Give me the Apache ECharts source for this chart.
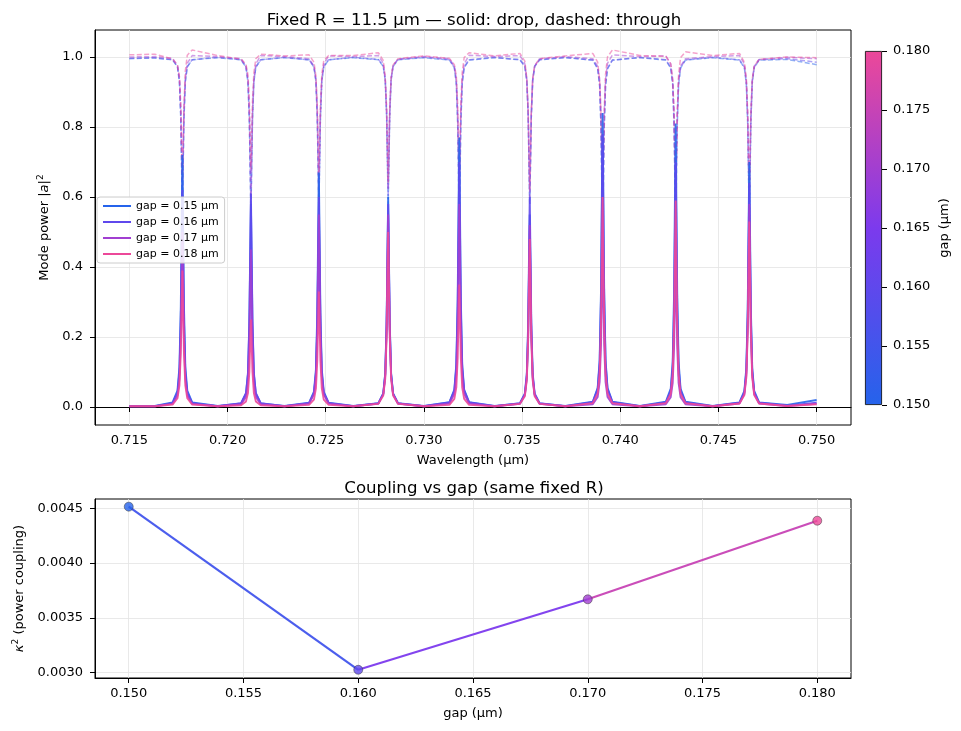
<!DOCTYPE html>
<html><head><meta charset="utf-8">
<script src="https://cdn.jsdelivr.net/npm/echarts@6/dist/echarts.min.js"></script>
<style>html,body{margin:0;padding:0;background:#fff}#c{width:961px;height:731px}</style>
</head><body><div id="c"></div>
<script>
// ---------- data ----------
const gaps = [0.15, 0.16, 0.17, 0.18];
const gapLabels = ['gap = 0.15 µm', 'gap = 0.16 µm', 'gap = 0.17 µm', 'gap = 0.18 µm'];
const kappa2 = [0.004515, 0.003027, 0.00367, 0.004387];

const wavelength = [
  0.7150, 0.7163,
  0.71720,0.71745,0.71755,0.71762,0.71770,0.71778,0.71785,0.71795,0.71820, 0.7195,
  0.72069,0.72094,0.72104,0.72111,0.72119,0.72127,0.72134,0.72144,0.72169, 0.7229,
  0.72415,0.72440,0.72450,0.72457,0.72465,0.72473,0.72480,0.72490,0.72515, 0.7264,
  0.72768,0.72793,0.72803,0.72810,0.72818,0.72826,0.72833,0.72843,0.72868, 0.7300,
  0.73130,0.73155,0.73165,0.73172,0.73180,0.73188,0.73195,0.73205,0.73230, 0.7336,
  0.73489,0.73514,0.73524,0.73531,0.73539,0.73547,0.73554,0.73564,0.73589, 0.7372,
  0.73860,0.73885,0.73895,0.73902,0.73910,0.73918,0.73925,0.73935,0.73960, 0.7410,
  0.74232,0.74257,0.74267,0.74274,0.74282,0.74290,0.74297,0.74307,0.74332, 0.7447,
  0.74607,0.74632,0.74642,0.74649,0.74657,0.74665,0.74672,0.74682,0.74707,
  0.7485, 0.7500
];

const dropG15 = [
  0.003, 0.003,
  0.013,0.047,0.115,0.288,0.72,0.288,0.115,0.047,0.013, 0.003,
  0.010,0.038,0.093,0.232,0.58,0.232,0.093,0.038,0.010, 0.003,
  0.012,0.044,0.107,0.268,0.67,0.268,0.107,0.044,0.012, 0.003,
  0.011,0.039,0.096,0.240,0.60,0.240,0.096,0.039,0.011, 0.003,
  0.014,0.050,0.123,0.308,0.77,0.308,0.123,0.050,0.014, 0.003,
  0.010,0.036,0.088,0.220,0.55,0.220,0.088,0.036,0.010, 0.003,
  0.015,0.055,0.134,0.336,0.84,0.336,0.134,0.055,0.015, 0.003,
  0.015,0.053,0.130,0.324,0.81,0.324,0.130,0.053,0.015, 0.003,
  0.013,0.046,0.112,0.280,0.70,0.280,0.112,0.046,0.013,
  0.006, 0.020
];
const dropG16 = [
  0.002, 0.002,
  0.011,0.040,0.099,0.248,0.62,0.248,0.099,0.040,0.011, 0.002,
  0.011,0.040,0.098,0.244,0.61,0.244,0.098,0.040,0.011, 0.002,
  0.011,0.039,0.096,0.240,0.60,0.240,0.096,0.039,0.011, 0.002,
  0.010,0.038,0.093,0.232,0.58,0.232,0.093,0.038,0.010, 0.002,
  0.013,0.046,0.112,0.280,0.70,0.280,0.112,0.046,0.013, 0.002,
  0.011,0.039,0.096,0.240,0.60,0.240,0.096,0.039,0.011, 0.002,
  0.014,0.051,0.125,0.312,0.78,0.312,0.125,0.051,0.014, 0.002,
  0.013,0.046,0.112,0.280,0.70,0.280,0.112,0.046,0.013, 0.002,
  0.012,0.042,0.102,0.256,0.64,0.256,0.102,0.042,0.012,
  0.004, 0.012
];
const dropG17 = [
  0.002, 0.002,
  0.009,0.033,0.080,0.200,0.50,0.200,0.080,0.033,0.009, 0.002,
  0.008,0.029,0.072,0.180,0.45,0.180,0.072,0.029,0.008, 0.002,
  0.010,0.036,0.088,0.220,0.55,0.220,0.088,0.036,0.010, 0.002,
  0.010,0.036,0.088,0.220,0.55,0.220,0.088,0.036,0.010, 0.002,
  0.010,0.038,0.093,0.232,0.58,0.232,0.093,0.038,0.010, 0.002,
  0.009,0.034,0.083,0.208,0.52,0.208,0.083,0.034,0.009, 0.002,
  0.008,0.029,0.072,0.180,0.45,0.180,0.072,0.029,0.008, 0.002,
  0.008,0.028,0.069,0.172,0.43,0.172,0.069,0.028,0.008, 0.002,
  0.010,0.038,0.093,0.232,0.58,0.232,0.093,0.038,0.010,
  0.003, 0.009
];
const dropG18 = [
  0.002, 0.002,
  0.007,0.025,0.062,0.156,0.39,0.156,0.062,0.025,0.007, 0.002,
  0.005,0.016,0.040,0.100,0.25,0.100,0.040,0.016,0.005, 0.002,
  0.006,0.021,0.053,0.132,0.33,0.132,0.053,0.021,0.006, 0.002,
  0.009,0.033,0.080,0.200,0.50,0.200,0.080,0.033,0.009, 0.002,
  0.006,0.023,0.056,0.140,0.35,0.140,0.056,0.023,0.006, 0.002,
  0.009,0.031,0.077,0.192,0.48,0.192,0.077,0.031,0.009, 0.002,
  0.011,0.039,0.096,0.240,0.60,0.240,0.096,0.039,0.011, 0.002,
  0.011,0.038,0.094,0.236,0.59,0.236,0.094,0.038,0.011, 0.002,
  0.010,0.034,0.085,0.212,0.53,0.212,0.085,0.034,0.010,
  0.003, 0.008
];

const thruG15 = [
  0.995, 0.997,
  0.992,0.971,0.928,0.820,0.55,0.820,0.928,0.971,0.992, 0.998,
  0.992,0.971,0.928,0.820,0.55,0.820,0.928,0.971,0.992, 0.998,
  0.992,0.971,0.930,0.824,0.56,0.824,0.930,0.971,0.992, 0.998,
  0.992,0.973,0.933,0.832,0.58,0.832,0.933,0.973,0.992, 0.998,
  0.991,0.969,0.923,0.808,0.52,0.808,0.923,0.969,0.991, 0.998,
  0.992,0.973,0.933,0.832,0.58,0.832,0.933,0.973,0.992, 0.998,
  0.991,0.966,0.917,0.792,0.48,0.792,0.917,0.966,0.991, 0.998,
  0.991,0.968,0.920,0.800,0.50,0.800,0.920,0.968,0.991, 0.998,
  0.991,0.969,0.923,0.808,0.52,0.808,0.923,0.969,0.991,
  0.993, 0.978
];
const thruG16 = [
  0.996, 0.998,
  0.992,0.973,0.933,0.832,0.58,0.832,0.933,0.973,0.992, 0.999,
  0.992,0.971,0.930,0.824,0.56,0.824,0.930,0.971,0.992, 0.999,
  0.992,0.973,0.933,0.832,0.58,0.832,0.933,0.973,0.992, 0.999,
  0.993,0.974,0.936,0.840,0.60,0.840,0.936,0.974,0.993, 0.999,
  0.992,0.971,0.928,0.820,0.55,0.820,0.928,0.971,0.992, 0.999,
  0.992,0.973,0.933,0.832,0.58,0.832,0.933,0.973,0.992, 0.999,
  0.991,0.968,0.920,0.800,0.50,0.800,0.920,0.968,0.991, 0.999,
  0.992,0.970,0.926,0.816,0.54,0.816,0.926,0.970,0.992, 0.999,
  0.992,0.971,0.928,0.820,0.55,0.820,0.928,0.971,0.992,
  0.995, 0.985
];
const thruG17 = [
  1.000, 1.001,
  0.996,0.975,0.939,0.848,0.62,0.848,0.939,0.982,1.004, 1.001,
  0.995,0.974,0.936,0.840,0.60,0.840,0.936,0.980,1.004, 1.001,
  0.995,0.974,0.936,0.840,0.60,0.840,0.936,0.980,1.003, 1.001,
  1.004,0.982,0.939,0.848,0.62,0.848,0.939,0.975,0.994, 1.001,
  0.995,0.974,0.936,0.840,0.60,0.840,0.936,0.980,1.005, 1.001,
  1.004,0.980,0.936,0.840,0.60,0.840,0.936,0.974,0.995, 1.001,
  0.995,0.974,0.936,0.840,0.60,0.840,0.936,0.982,1.006, 1.001,
  1.003,0.980,0.936,0.840,0.60,0.840,0.936,0.974,0.995, 1.001,
  1.004,0.980,0.933,0.832,0.58,0.832,0.933,0.973,0.993,
  0.999, 0.995
];
const thruG18 = [
  1.006, 1.008,
  0.994,0.977,0.944,0.860,0.65,0.860,0.960,1.005,1.020, 1.004,
  0.994,0.979,0.949,0.872,0.68,0.872,0.955,0.995,1.008, 1.003,
  1.006,0.985,0.946,0.864,0.66,0.864,0.950,0.990,1.004, 1.004,
  1.012,0.990,0.942,0.856,0.64,0.856,0.942,0.977,0.995, 1.003,
  0.996,0.978,0.946,0.864,0.66,0.864,0.955,0.998,1.012, 1.003,
  1.010,0.988,0.939,0.848,0.62,0.848,0.939,0.975,0.995, 1.003,
  1.010,0.985,0.933,0.832,0.58,0.832,0.950,1.000,1.020, 1.004,
  1.002,0.980,0.933,0.832,0.58,0.832,0.950,0.998,1.015, 1.004,
  1.010,0.985,0.936,0.840,0.60,0.840,0.936,0.974,0.993,
  1.000, 0.998
];

const wavelengthTicks = [0.715, 0.720, 0.725, 0.730, 0.735, 0.740, 0.745, 0.750];
const powerTicks = [0.0, 0.2, 0.4, 0.6, 0.8, 1.0];
const gapTicks = [0.150, 0.155, 0.160, 0.165, 0.170, 0.175, 0.180];
const kappaTicks = [0.0030, 0.0035, 0.0040, 0.0045];

// ---------- styling ----------
const gapColors = ['#2563eb', '#5f48ec', '#a13fd1', '#ec4899'];
const segColors = ['#4255ec', '#7c3aed', '#c743b5'];
const FONT = 'DejaVu Sans';
const drops = [dropG15, dropG16, dropG17, dropG18];
const thrus = [thruG15, thruG16, thruG17, thruG18];
const zip = (xs, ys) => xs.map((x, i) => [x, ys[i]]);

const series = [];
for (let g = 0; g < gaps.length; g++) {
  series.push({
    name: gapLabels[g], type: 'line', xAxisIndex: 0, yAxisIndex: 0,
    data: zip(wavelength, drops[g]), symbol: 'none', showSymbol: false,
    lineStyle: { color: gapColors[g], width: 1.9, opacity: 0.9 },
    itemStyle: { color: gapColors[g] }, z: 3
  });
  series.push({
    name: 'through ' + gaps[g], type: 'line', xAxisIndex: 0, yAxisIndex: 0,
    data: zip(wavelength, thrus[g]), symbol: 'none', showSymbol: false,
    lineStyle: { color: gapColors[g], width: 1.5, opacity: 0.5, type: [5, 2.4] },
    itemStyle: { color: gapColors[g] }, z: 2
  });
}
for (let i = 0; i < gaps.length - 1; i++) {
  series.push({
    name: 'seg' + i, type: 'line', xAxisIndex: 1, yAxisIndex: 1,
    data: [[gaps[i], kappa2[i]], [gaps[i + 1], kappa2[i + 1]]],
    symbol: 'none', lineStyle: { color: segColors[i], width: 2.2, opacity: 0.95 }, z: 3
  });
}
series.push({
  name: 'kappa pts', type: 'scatter', xAxisIndex: 1, yAxisIndex: 1,
  data: gaps.map((g, i) => ({ value: [g, kappa2[i]], itemStyle: { color: gapColors[i] } })),
  symbolSize: 9, itemStyle: { borderColor: '#333', borderWidth: 0.6 }, z: 5
});
// colorbar
series.push({
  name: 'cbBase', type: 'bar', xAxisIndex: 2, yAxisIndex: 2, stack: 'cb',
  data: [gaps[0]], barWidth: '100%', itemStyle: { opacity: 0 }, silent: true
});
series.push({
  name: 'cbBar', type: 'bar', xAxisIndex: 2, yAxisIndex: 2, stack: 'cb',
  data: [gaps[gaps.length - 1] - gaps[0]], barWidth: '100%', silent: true,
  itemStyle: {
    borderColor: '#000', borderWidth: 0.8,
    color: new echarts.graphic.LinearGradient(0, 1, 0, 0, [
      { offset: 0, color: '#2563eb' }, { offset: 0.5, color: '#7c3aed' }, { offset: 1, color: '#ec4899' }
    ])
  }
});

const axisCommon = {
  axisLine: { show: true, lineStyle: { color: '#000', width: 1 } },
  axisTick: { show: true, length: 5, lineStyle: { color: '#000', width: 1 } },
  axisLabel: { color: '#000', fontFamily: FONT, fontSize: 13, margin: 9 },
  splitLine: { show: true, lineStyle: { color: '#e3e3e3', width: 0.8 } },
  nameTextStyle: { color: '#000', fontFamily: FONT, fontSize: 13 }
};
function mk(base, extra) {
  const o = JSON.parse(JSON.stringify(base));
  for (const k in extra) {
    if (typeof extra[k] === 'object' && !Array.isArray(extra[k]) && o[k]) Object.assign(o[k], extra[k]);
    else o[k] = extra[k];
  }
  return o;
}
const richName = {
  n: { fontFamily: FONT, fontSize: 13, color: '#000' },
  i: { fontFamily: FONT, fontSize: 13, fontStyle: 'italic', color: '#000' },
  s: { fontFamily: FONT, fontSize: 9, color: '#000', verticalAlign: 'top', padding: [0, 0, 8, 0] }
};

const option = {
  animation: false,
  backgroundColor: '#fff',
  textStyle: { fontFamily: FONT },
  title: [
    { text: 'Fixed R = 11.5 µm — solid: drop, dashed: through', left: 469, top: 7, textAlign: 'center',
      textStyle: { fontFamily: FONT, fontSize: 16.6, fontWeight: 'normal', color: '#000' } },
    { text: 'Coupling vs gap (same fixed R)', left: 469, top: 475, textAlign: 'center',
      textStyle: { fontFamily: FONT, fontSize: 16.6, fontWeight: 'normal', color: '#000' } }
  ],
  legend: {
    data: gapLabels, left: 97, top: 197, orient: 'vertical', icon: 'rect',
    itemWidth: 28, itemHeight: 2, itemGap: 4, padding: [3, 6, 3, 6],
    backgroundColor: 'rgba(255,255,255,0.85)', borderColor: '#cccccc', borderWidth: 1, borderRadius: 3,
    textStyle: { fontFamily: FONT, fontSize: 11, color: '#000', lineHeight: 12 }, selectedMode: false
  },
  grid: [
    { left: 95, top: 30, width: 756, height: 395, show: true, borderColor: '#000', borderWidth: 1 },
    { left: 95, top: 499, width: 756, height: 179, show: true, borderColor: '#000', borderWidth: 1 },
    { left: 865, top: 51, width: 17, height: 354 }
  ],
  xAxis: [
    mk(axisCommon, {
      type: 'value', gridIndex: 0, min: 0.71325, max: 0.75175,
      name: 'Wavelength (µm)', nameLocation: 'middle', nameGap: 29,
      axisTick: { customValues: wavelengthTicks },
      axisLabel: { customValues: wavelengthTicks, formatter: v => v.toFixed(3) }
    }),
    mk(axisCommon, {
      type: 'value', gridIndex: 1, min: 0.14853, max: 0.18147,
      name: 'gap (µm)', nameLocation: 'middle', nameGap: 29,
      axisTick: { customValues: gapTicks },
      axisLabel: { customValues: gapTicks, formatter: v => v.toFixed(3) }
    }),
    { type: 'category', gridIndex: 2, data: ['cb'], show: false }
  ],
  yAxis: [
    mk(axisCommon, {
      type: 'value', gridIndex: 0, min: -0.0514, max: 1.077,
      name: '{n|Mode power |}{i|a}{n||}{s|2}', nameLocation: 'middle', nameGap: 38,
      nameTextStyle: { rich: richName },
      axisTick: { customValues: powerTicks },
      axisLabel: { customValues: powerTicks, formatter: v => v.toFixed(1), margin: 12 }
    }),
    mk(axisCommon, {
      type: 'value', gridIndex: 1, min: 0.002952, max: 0.004585,
      name: '{i|κ}{s|2}{n| (power coupling)}', nameLocation: 'middle', nameGap: 65,
      nameTextStyle: { rich: richName },
      axisTick: { customValues: kappaTicks },
      axisLabel: { customValues: kappaTicks, formatter: v => v.toFixed(4), margin: 12 }
    }),
    {
      type: 'value', gridIndex: 2, min: 0.150, max: 0.180, interval: 0.005, position: 'right',
      name: 'gap (µm)', nameLocation: 'middle', nameGap: 56, nameRotate: 90,
      nameTextStyle: { color: '#000', fontFamily: FONT, fontSize: 13 },
      axisLine: { show: false },
      axisTick: { show: true, length: 5, lineStyle: { color: '#000' } },
      axisLabel: { color: '#000', fontFamily: FONT, fontSize: 13, margin: 11, formatter: v => v.toFixed(3) },
      splitLine: { show: false }
    }
  ],
  series: series
};

const chart = echarts.init(document.getElementById('c'), null, { renderer: 'canvas' });
chart.setOption(option);
</script>
</body></html>
